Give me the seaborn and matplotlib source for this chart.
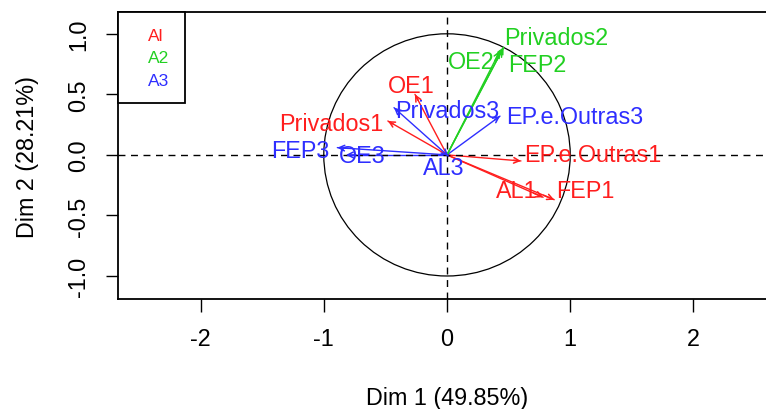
import numpy as np
import pandas as pd
import matplotlib
matplotlib.use("Agg")
import matplotlib.pyplot as plt
import seaborn as sns

# --- data: variable coordinates on Dim 1 / Dim 2 ---
variables = ["Privados1", "OE1", "EP.e.Outras1", "AL1", "FEP1",
             "Privados2", "OE2", "FEP2",
             "Privados3", "EP.e.Outras3", "FEP3", "OE3", "AL3"]
groups = ["Al", "Al", "Al", "Al", "Al",
          "A2", "A2", "A2",
          "A3", "A3", "A3", "A3", "A3"]
dim1 = [-0.48, -0.26, 0.60, 0.78, 0.87,
        0.46, 0.43, 0.45,
        -0.43, 0.43, -0.89, -0.82, 0.01]
dim2 = [0.28, 0.50, -0.05, -0.35, -0.37,
        0.89, 0.86, 0.87,
        0.39, 0.32, 0.06, 0.00, -0.01]

group_names = ["Al", "A2", "A3"]
xlab = "Dim 1 (49.85%)"
ylab = "Dim 2 (28.21%)"
xticks = [-2, -1, 0, 1, 2]
yticks = [-1.0, -0.5, 0.0, 0.5, 1.0]

# label placement (data units), like autoLab shifts them in FactoMineR
label_pos = {
    "Privados1": (-0.94, 0.26), "OE1": (-0.29, 0.57),
    "EP.e.Outras1": (1.18, 0.0), "AL1": (0.57, -0.29), "FEP1": (1.12, -0.29),
    "Privados2": (0.89, 0.97), "OE2": (0.20, 0.77), "FEP2": (0.73, 0.75),
    "Privados3": (0.0, 0.37), "EP.e.Outras3": (1.04, 0.32),
    "FEP3": (-1.19, 0.035), "OE3": (-0.69, -0.005), "AL3": (-0.03, -0.10),
}

palette = {"Al": "#FF1E1E", "A2": "#22D022", "A3": "#2E2EFF"}
FS = 16.8

df = pd.DataFrame({"var": variables, "group": groups, "x": dim1, "y": dim2})
# long form: origin + tip for each arrow shaft
seg = pd.concat([df.assign(x=0.0, y=0.0, step=0), df.assign(step=1)])
seg = seg.sort_values(["var", "step"])

sns.set_style("ticks")
plt.rcParams["font.family"] = ["Liberation Sans", "DejaVu Sans"]
plt.rcParams["text.color"] = "black"
plt.rcParams["axes.labelcolor"] = "black"
plt.rcParams["xtick.color"] = "black"
plt.rcParams["ytick.color"] = "black"

fig = plt.figure(figsize=(7.66, 4.10), dpi=100)
ax = fig.add_axes([118 / 766, 110 / 410, 658 / 766, 287 / 410])

sns.lineplot(data=seg, x="x", y="y", hue="group", units="var", estimator=None,
             sort=False, palette=palette, linewidth=1, legend=False, ax=ax)

for _, r in df.iterrows():
    c = palette[r["group"]]
    ax.annotate("", xy=(r["x"], r["y"]), xytext=(r["x"] * 0.9, r["y"] * 0.9),
                arrowprops=dict(arrowstyle="->", color=c, lw=1.1,
                                mutation_scale=10, shrinkA=0, shrinkB=0))
    lx, ly = label_pos[r["var"]]
    ax.text(lx, ly, r["var"], color=c, fontsize=FS, ha="center", va="center")

ax.add_patch(plt.Circle((0, 0), 1, fill=False, color="black", lw=0.9))
ax.axhline(0, color="black", lw=1, ls=(0, (5, 4)))
ax.axvline(0, color="black", lw=1, ls=(0, (5, 4)))

ax.set_xlim(-2.67, 2.67)
ax.set_ylim(-1.19, 1.18)
ax.set_xticks(xticks)
ax.set_xticklabels([f"{t:g}" for t in xticks])
ax.set_yticks(yticks)
ax.set_yticklabels([f"{t:.1f}" for t in yticks], rotation=90, va="center")
ax.tick_params(length=9, width=1, labelsize=FS, pad=11, color="black",
               labelcolor="black")

ax.set_xlabel(xlab, fontsize=FS, labelpad=26)
ax.set_ylabel(ylab, fontsize=FS, labelpad=20)

for s in ax.spines.values():
    s.set_linewidth(1.3)
    s.set_color("black")

handles = [plt.Line2D([], [], linestyle="none") for _ in group_names]
leg = ax.legend(handles, group_names, loc="upper left", borderaxespad=0,
                fancybox=False, edgecolor="black", framealpha=1,
                fontsize=12.5, handlelength=0.5, handletextpad=0.35,
                borderpad=0.9, labelspacing=0.42,
                labelcolor=[palette[g] for g in group_names])
leg.get_frame().set_linewidth(1.3)

fig.savefig("out.png", dpi=100)
